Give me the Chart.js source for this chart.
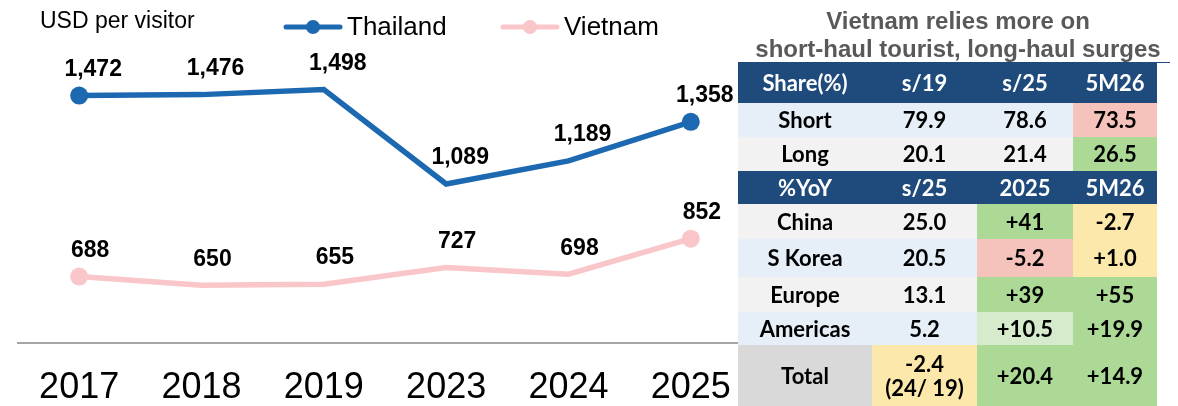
<!DOCTYPE html>
<html>
<head>
<meta charset="utf-8">
<script src="https://cdn.jsdelivr.net/npm/chart.js@4.4.1/dist/chart.umd.min.js"></script>
<style>
  html, body { margin: 0; padding: 0; background: #fff; }
  #wrap { position: relative; width: 1178px; height: 406px; overflow: hidden; }
  #chartBox { position: absolute; left: 0; top: 0; width: 761px; height: 406px; }
  #tblTitle {
    position: absolute; left: 738px; top: 7px; width: 440px;
    text-align: center; color: #595959; line-height: 27px;
    font: bold 24px "Liberation Sans", Arial, sans-serif;
  }
  #topRule { position: absolute; left: 738px; top: 62px; width: 432px; height: 1px; background: #1f4a7c; }
  #mix {
    position: absolute; left: 738px; top: 63px;
    border-collapse: collapse; table-layout: fixed;
    font-family: Lato, "Noto Sans", sans-serif; font-weight: 700; font-size: 22px;
  }
  #mix td { padding: 0; text-align: center; color: #000; line-height: 24px; }
  #mix tr.head td { background: #1f4a7c; color: #fff; }
  .blue { background: #e6eef8; }
  .grey { background: #f2f2f2; }
  .dark { background: #d9d9d9; }
  .pink { background: #f5c3bb; }
  .green { background: #acd995; }
  .mint { background: #d6ebcb; }
  .yellow { background: #fde8ac; }
</style>
</head>
<body>
<div id="wrap">
  <div id="chartBox"><canvas id="spend"></canvas></div>
  <div id="tblTitle">Vietnam relies more on<br>short-haul tourist, long-haul surges</div>
  <div id="topRule"></div>
  <table id="mix"></table>
</div>
<script>
// average spending per visitor, USD
const years = ['2017', '2018', '2019', '2023', '2024', '2025'];
const thailand = [1472, 1476, 1498, 1089, 1189, 1358];
const vietnam = [688, 650, 655, 727, 698, 852];

// side table: Vietnam arrivals mix
const colWidths = [134, 105, 96, 84];
const rowHeights = [40, 34, 34, 33, 35, 38, 35, 33, 61];
const tableRows = [
  ['Share(%)', 's/19', 's/25', '5M26'],
  ['Short', '79.9', '78.6', '73.5'],
  ['Long', '20.1', '21.4', '26.5'],
  ['%YoY', 's/25', '2025', '5M26'],
  ['China', '25.0', '+41', '-2.7'],
  ['S Korea', '20.5', '-5.2', '+1.0'],
  ['Europe', '13.1', '+39', '+55'],
  ['Americas', '5.2', '+10.5', '+19.9'],
  ['Total', '-2.4<br>(24/ 19)', '+20.4', '+14.9']
];
const headRows = [0, 3];
const cellTones = [
  [],
  ['blue', 'blue', 'blue', 'pink'],
  ['grey', 'grey', 'grey', 'green'],
  [],
  ['grey', 'grey', 'green', 'yellow'],
  ['blue', 'blue', 'pink', 'yellow'],
  ['grey', 'grey', 'green', 'green'],
  ['blue', 'blue', 'mint', 'green'],
  ['dark', 'yellow', 'green', 'green']
];

function buildTable() {
  const tbl = document.getElementById('mix');
  let html = '<colgroup>' + colWidths.map(w => '<col style="width:' + w + 'px">').join('') + '</colgroup>';
  tableRows.forEach((row, r) => {
    const cls = headRows.includes(r) ? ' class="head"' : '';
    html += '<tr' + cls + ' style="height:' + rowHeights[r] + 'px">';
    row.forEach((txt, c) => {
      const tone = cellTones[r][c] ? ' class="' + cellTones[r][c] + '"' : '';
      html += '<td' + tone + '>' + txt + '</td>';
    });
    html += '</tr>';
  });
  tbl.innerHTML = html;
}
buildTable();

const FONT = '"Liberation Sans", Arial, sans-serif';

// value labels sitting above each point
const pointLabels = {
  id: 'pointLabels',
  afterDatasetsDraw(chart) {
    const ctx = chart.ctx;
    ctx.save();
    ctx.font = 'bold 23px ' + FONT;
    ctx.fillStyle = '#000';
    ctx.textAlign = 'center';
    ctx.textBaseline = 'middle';
    chart.data.datasets.forEach((ds, i) => {
      chart.getDatasetMeta(i).data.forEach((pt, j) => {
        ctx.fillText(ds.data[j].toLocaleString('en-US'), pt.x + ds.labelShift, pt.y - ds.labelRise);
      });
    });
    ctx.restore();
  }
};

// unit text and the line+dot legend across the top
const headerBar = {
  id: 'headerBar',
  afterDraw(chart) {
    const ctx = chart.ctx;
    ctx.save();
    ctx.textBaseline = 'middle';
    ctx.textAlign = 'left';
    ctx.fillStyle = '#000';
    ctx.font = '23px ' + FONT;
    ctx.fillText('USD per visitor', 40, 22);
    const starts = [286, 503];
    chart.data.datasets.forEach((ds, i) => {
      const x = starts[i], y = 27;
      ctx.strokeStyle = ds.borderColor;
      ctx.lineWidth = 5;
      ctx.lineCap = 'round';
      ctx.beginPath();
      ctx.moveTo(x, y);
      ctx.lineTo(x + 54, y);
      ctx.stroke();
      ctx.fillStyle = ds.borderColor;
      ctx.beginPath();
      ctx.arc(x + 27, y, 7, 0, Math.PI * 2);
      ctx.fill();
      ctx.fillStyle = '#000';
      ctx.font = '26px ' + FONT;
      ctx.fillText(ds.label, x + 61, y + 1);
    });
    ctx.restore();
  }
};

// only the first and last points get a dot
const endDots = ctx => (ctx.dataIndex === 0 || ctx.dataIndex === years.length - 1) ? 9 : 0;

new Chart(document.getElementById('spend'), {
  type: 'line',
  data: {
    labels: years,
    datasets: [
      {
        label: 'Thailand',
        data: thailand,
        borderColor: '#1c69b1',
        backgroundColor: '#1c69b1',
        borderWidth: 5.5,
        pointRadius: endDots,
        pointBorderWidth: 0,
        tension: 0,
        labelShift: 14,
        labelRise: 26
      },
      {
        label: 'Vietnam',
        data: vietnam,
        borderColor: '#f9c6c9',
        backgroundColor: '#f9c6c9',
        borderWidth: 5.5,
        pointRadius: endDots,
        pointBorderWidth: 0,
        tension: 0,
        labelShift: 11,
        labelRise: 26
      }
    ]
  },
  options: {
    responsive: true,
    maintainAspectRatio: false,
    animation: false,
    layout: { padding: { left: 18, right: 0, top: 66, bottom: 0 } },
    plugins: {
      legend: { display: false },
      tooltip: { enabled: false }
    },
    scales: {
      x: {
        offset: true,
        grid: { display: false },
        border: { display: true, color: '#a6a6a6', width: 2 },
        ticks: { color: '#000', padding: 15, font: { family: FONT, size: 36 } },
        afterFit(scale) { scale.height = 63; }
      },
      y: {
        display: false,
        min: 400,
        max: 1600
      }
    }
  },
  plugins: [pointLabels, headerBar]
});
</script>
</body>
</html>
